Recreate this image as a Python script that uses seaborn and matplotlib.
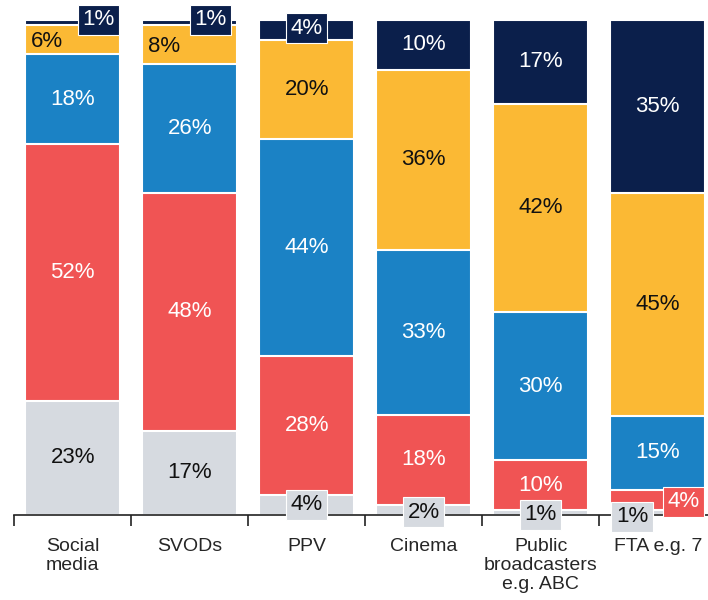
import matplotlib
matplotlib.use("Agg")
import matplotlib.pyplot as plt
import numpy as np
import pandas as pd
import seaborn as sns

categories = ["Social\nmedia", "SVODs", "PPV", "Cinema", "Public\nbroadcasters\ne.g. ABC", "FTA e.g. 7"]
# segments from bottom to top
grey = [23, 17, 4, 2, 1, 1]
red = [52, 48, 28, 18, 10, 4]
blue = [18, 26, 44, 33, 30, 15]
yellow = [6, 8, 20, 36, 42, 45]
navy = [1, 1, 4, 10, 17, 35]

series = [grey, red, blue, yellow, navy]
colors = ["#d6dae0", "#f05454", "#1b82c5", "#fbb934", "#0b1f4b"]
text_colors = ["#111111", "white", "white", "#111111", "white"]

sns.set_theme(style="white")
plt.rcParams["font.family"] = ["Liberation Sans", "DejaVu Sans"]

fig = plt.figure(figsize=(7.08, 6), dpi=100)
ax = fig.add_axes([0.02, 0.142, 0.98, 0.825])

arr = np.array(series, dtype=float)
# bars are shown as shares of 100%
shares = arr / arr.sum(axis=0) * 100
cum = np.cumsum(shares, axis=0)

# draw cumulative totals from the top down so each layer covers the one above
for i in range(len(series) - 1, -1, -1):
    df = pd.DataFrame({"cat": categories, "val": cum[i]})
    sns.barplot(data=df, x="cat", y="val", color=colors[i], width=0.81,
                edgecolor="white", linewidth=1.5, saturation=1, ax=ax)

# small-label placements (x offset in category units, y position)
small = {
    (0, 4): (0.22, 100.0), (1, 4): (0.18, 100.0), (2, 4): (0.0, 98.3),
    (2, 0): (0.0, 2.0), (3, 0): (0.0, 0.5), (4, 0): (0.0, 0.0),
    (5, 0): (-0.22, -0.4), (5, 1): (0.22, 2.6),
}
fs = 16
for j in range(len(categories)):
    for i in range(len(series)):
        v = series[i][j]
        top = cum[i][j]
        mid = top - shares[i][j] / 2
        if (j, i) in small:
            dx, y = small[(j, i)]
            ax.text(j + dx, y, f"{v}%", ha="center", va="center", fontsize=fs,
                    color=text_colors[i],
                    bbox=dict(boxstyle="square,pad=0.2", fc=colors[i], ec="white", lw=0.8))
        elif v < 10:
            ax.text(j - 0.36, mid - 0.3, f"{v}%", ha="left", va="center", fontsize=fs,
                    color=text_colors[i])
        else:
            ax.text(j, mid, f"{v}%", ha="center", va="center", fontsize=fs,
                    color=text_colors[i])

ax.set_ylim(0, 100)
ax.set_xlim(-0.5, 5.43)
ax.set_xlabel("")
ax.set_ylabel("")
ax.set_yticks([])
for s in ["top", "right", "left"]:
    ax.spines[s].set_visible(False)
ax.spines["bottom"].set_color("#222222")
ax.spines["bottom"].set_linewidth(1.2)
ax.set_xticks(range(len(categories)))
ax.set_xticklabels(categories, fontsize=14, va="top", linespacing=1.12)
ax.set_xticks(np.arange(-0.5, 5.0, 1.0), minor=True)
ax.tick_params(axis="x", which="major", length=0, pad=17)
ax.tick_params(axis="x", which="minor", length=8, width=1.2, color="#222222",
               direction="out", bottom=True)

fig.savefig("out.png", dpi=100)
